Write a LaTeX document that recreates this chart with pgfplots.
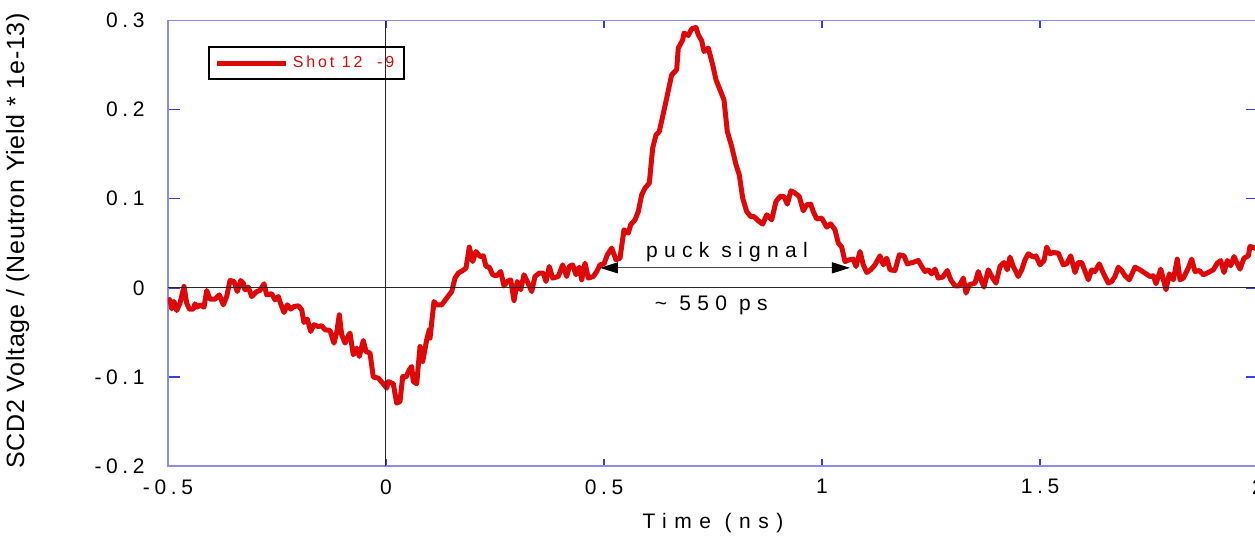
\documentclass[border=0pt]{standalone}
\usepackage{pgfplots}
\pgfplotsset{compat=1.18}
\usepackage{fontspec}
\setmainfont{Liberation Sans}
\newfontfamily\lsfont[LetterSpace=22]{Liberation Sans}
\newfontfamily\xlfont[LetterSpace=36]{Liberation Sans}
\newfontfamily\annfont[LetterSpace=30]{Liberation Sans}
\newfontfamily\legfont[LetterSpace=18]{Liberation Sans}
\newfontfamily\ylfont[LetterSpace=3]{Liberation Sans}
\usetikzlibrary{arrows.meta}
\definecolor{axisblue}{RGB}{140,140,240}
\definecolor{tickblue}{RGB}{60,60,230}
\definecolor{curvered}{RGB}{222,8,8}
\definecolor{zeroline}{RGB}{40,40,40}
\begin{document}
\begin{tikzpicture}
\begin{axis}[
  scale only axis,
  width=545pt, height=222.75pt,
  xmin=-0.5, xmax=2, ymin=-0.2, ymax=0.3,
  xtick={-0.5,0,0.5,1,1.5,2},
  xticklabels={-0.5,0,0.5,1,1.5,2},
  ytick={-0.2,-0.1,0,0.1,0.2,0.3},
  yticklabels={-0.2,-0.1,0,0.1,0.2,0.3},
  tick align=inside,
  axis line style={color=axisblue, line width=0.75pt},
  major tick style={color=tickblue, line width=0.75pt},
  xtick style={/pgfplots/major tick length=3.5pt},
  ytick style={/pgfplots/major tick length=6pt},
  xticklabel style={font=\fontsize{10.5}{12}\lsfont, anchor=north, inner sep=0pt, yshift=-6.5pt},
  yticklabel style={font=\fontsize{10.5}{12}\lsfont, anchor=east, inner sep=0pt, xshift=-11.5pt},
  xlabel={Time (ns)},
  xlabel style={font=\fontsize{10.5}{12}\xlfont, at={(axis description cs:0.5,-0.128)}, anchor=center},
  ylabel={SCD2 Voltage / (Neutron Yield * 1e-13)},
  ylabel style={font=\fontsize{12.5}{14}\ylfont, at={(axis description cs:-0.138,0.505)}, anchor=center},
  legend style={at={(rel axis cs:0.0367,0.943)}, anchor=north west, draw=black, line width=0.9pt, fill=none,
    font=\fontsize{8}{9}\legfont, text=curvered, inner xsep=3pt, inner ysep=2.5pt},
  legend image code/.code={\draw[#1] (0pt,0pt) -- (34.5pt,0pt);},
  clip=true,
]
\addplot[color=curvered, line width=2.5pt, line join=round, no marks] coordinates {
(-0.5000,-0.0127) (-0.4954,-0.0135) (-0.4915,-0.0236) (-0.4862,-0.0154) (-0.4800,-0.0255)
(-0.4725,-0.0172) (-0.4633,0.0015) (-0.4571,-0.0172) (-0.4511,-0.0239) (-0.4420,-0.0239)
(-0.4381,-0.0180) (-0.4328,-0.0217) (-0.4266,-0.0191) (-0.4174,-0.0217) (-0.4112,-0.0030)
(-0.4037,-0.0127) (-0.3922,-0.0127) (-0.3823,-0.0079) (-0.3732,-0.0191) (-0.3654,-0.0098)
(-0.3578,0.0082) (-0.3486,0.0071) (-0.3411,-0.0042) (-0.3333,0.0082) (-0.3273,0.0053)
(-0.3234,-0.0022) (-0.3158,0.0008) (-0.3080,-0.0098) (-0.2966,-0.0042) (-0.2890,-0.0030)
(-0.2798,0.0045) (-0.2736,-0.0079) (-0.2622,-0.0067) (-0.2546,-0.0135) (-0.2470,-0.0098)
(-0.2415,-0.0180) (-0.2339,-0.0277) (-0.2264,-0.0191) (-0.2186,-0.0239) (-0.2110,-0.0210)
(-0.2011,-0.0202) (-0.1933,-0.0247) (-0.1881,-0.0389) (-0.1805,-0.0351) (-0.1727,-0.0490)
(-0.1651,-0.0415) (-0.1553,-0.0434) (-0.1475,-0.0426) (-0.1399,-0.0471) (-0.1284,-0.0479)
(-0.1193,-0.0621) (-0.1131,-0.0502) (-0.1071,-0.0303) (-0.1016,-0.0527) (-0.0940,-0.0621)
(-0.0865,-0.0539) (-0.0826,-0.0508) (-0.0750,-0.0752) (-0.0672,-0.0677) (-0.0612,-0.0771)
(-0.0521,-0.0591) (-0.0459,-0.0715) (-0.0367,-0.0733) (-0.0291,-0.1002) (-0.0177,-0.1013)
(-0.0076,-0.1070) (0.0016,-0.1126) (0.0053,-0.1052) (0.0167,-0.1077) (0.0245,-0.1294)
(0.0321,-0.1276) (0.0383,-0.0996) (0.0459,-0.1002) (0.0534,-0.0920) (0.0589,-0.0883)
(0.0626,-0.1052) (0.0704,-0.1077) (0.0780,-0.0659) (0.0842,-0.0827) (0.0933,-0.0584)
(0.0993,-0.0471) (0.1009,-0.0565) (0.1101,-0.0154) (0.1163,-0.0191) (0.1278,-0.0191)
(0.1392,-0.0116) (0.1507,-0.0042) (0.1583,0.0109) (0.1658,0.0165) (0.1759,0.0194)
(0.1835,0.0221) (0.1911,0.0457) (0.1989,0.0295) (0.2064,0.0407) (0.2156,0.0351)
(0.2232,0.0359) (0.2294,0.0239) (0.2369,0.0232) (0.2447,0.0146) (0.2539,0.0135)
(0.2631,0.0183) (0.2706,0.0022) (0.2782,0.0071) (0.2860,0.0090) (0.2936,-0.0143)
(0.3011,0.0071) (0.3089,-0.0022) (0.3165,0.0146) (0.3241,0.0071) (0.3342,-0.0042)
(0.3417,0.0127) (0.3516,0.0165) (0.3608,0.0165) (0.3670,0.0071) (0.3745,0.0239)
(0.3823,0.0109) (0.3952,0.0127) (0.4053,0.0258) (0.4144,0.0127) (0.4204,0.0239)
(0.4282,0.0258) (0.4358,0.0146) (0.4433,0.0232) (0.4489,0.0090) (0.4564,0.0277)
(0.4640,0.0109) (0.4755,0.0127) (0.4833,0.0183) (0.4908,0.0258) (0.5000,0.0269)
(0.5076,0.0370) (0.5177,0.0446) (0.5275,0.0314) (0.5367,0.0333) (0.5459,0.0651)
(0.5558,0.0614) (0.5612,0.0707) (0.5711,0.0763) (0.5787,0.0856) (0.5865,0.1044)
(0.5940,0.1119) (0.6039,0.1175) (0.6117,0.1568) (0.6193,0.1717) (0.6268,0.1754)
(0.6346,0.1923) (0.6438,0.2129) (0.6553,0.2391) (0.6667,0.2447) (0.6704,0.2690)
(0.6805,0.2783) (0.6835,0.2859) (0.6934,0.2832) (0.7011,0.2907) (0.7110,0.2921)
(0.7163,0.2840) (0.7241,0.2772) (0.7294,0.2652) (0.7392,0.2690) (0.7493,0.2503)
(0.7569,0.2334) (0.7661,0.2222) (0.7752,0.2110) (0.7828,0.1754) (0.7929,0.1586)
(0.8028,0.1380) (0.8103,0.1268) (0.8181,0.1007) (0.8273,0.0856) (0.8365,0.0800)
(0.8440,0.0800) (0.8539,0.0752) (0.8640,0.0715) (0.8732,0.0819) (0.8846,0.0763)
(0.8945,0.0969) (0.9037,0.1025) (0.9128,0.1025) (0.9204,0.0939) (0.9289,0.1089)
(0.9381,0.1063) (0.9479,0.1025) (0.9571,0.0864) (0.9649,0.0932) (0.9741,0.0939)
(0.9800,0.0856) (0.9878,0.0774) (0.9993,0.0782) (1.0108,0.0681) (1.0199,0.0718)
(1.0298,0.0651) (1.0374,0.0502) (1.0452,0.0457) (1.0528,0.0295) (1.0626,0.0314)
(1.0718,0.0322) (1.0780,0.0239) (1.0872,0.0407) (1.0947,0.0258) (1.1025,0.0172)
(1.1117,0.0202) (1.1216,0.0258) (1.1330,0.0359) (1.1406,0.0258) (1.1484,0.0333)
(1.1560,0.0202) (1.1674,0.0194) (1.1773,0.0370) (1.1881,0.0359) (1.1956,0.0269)
(1.2080,0.0284) (1.2209,0.0306) (1.2287,0.0239) (1.2362,0.0183) (1.2438,0.0202)
(1.2516,0.0157) (1.2592,0.0210) (1.2667,0.0109) (1.2768,0.0120) (1.2874,0.0194)
(1.2952,0.0090) (1.3050,0.0022) (1.3149,0.0022) (1.3241,0.0109) (1.3303,-0.0059)
(1.3378,0.0034) (1.3509,0.0053) (1.3585,0.0183) (1.3663,0.0071) (1.3716,0.0008)
(1.3814,0.0202) (1.3915,0.0109) (1.3991,0.0053) (1.4083,0.0239) (1.4174,0.0284)
(1.4250,0.0202) (1.4312,0.0345) (1.4388,0.0239) (1.4502,0.0127) (1.4580,0.0202)
(1.4656,0.0314) (1.4732,0.0382) (1.4846,0.0345) (1.4908,0.0359) (1.5000,0.0258)
(1.5092,0.0306) (1.5154,0.0457) (1.5229,0.0382) (1.5305,0.0396) (1.5420,0.0389)
(1.5534,0.0258) (1.5612,0.0269) (1.5704,0.0359) (1.5803,0.0172) (1.5878,0.0284)
(1.5956,0.0284) (1.6108,0.0090) (1.6186,0.0202) (1.6261,0.0183) (1.6360,0.0269)
(1.6452,0.0165) (1.6567,0.0053) (1.6644,0.0071) (1.6720,0.0127) (1.6796,0.0232)
(1.6874,0.0194) (1.6950,0.0135) (1.7048,0.0090) (1.7179,0.0232) (1.7294,0.0202)
(1.7408,0.0165) (1.7523,0.0127) (1.7599,0.0135) (1.7661,0.0045) (1.7769,0.0210)
(1.7890,-0.0022) (1.7966,0.0157) (1.8058,0.0090) (1.8149,0.0322) (1.8211,0.0090)
(1.8287,0.0109) (1.8401,0.0221) (1.8479,0.0322) (1.8555,0.0183) (1.8654,0.0194)
(1.8745,0.0146) (1.8860,0.0172) (1.8975,0.0202) (1.9067,0.0277) (1.9144,0.0306)
(1.9220,0.0172) (1.9296,0.0306) (1.9374,0.0247) (1.9450,0.0351) (1.9511,0.0284)
(1.9587,0.0210) (1.9679,0.0333) (1.9778,0.0359) (1.9817,0.0464) (1.9931,0.0446)
(2.0000,0.0430)
};
\addlegendentry{Shot 12 \ -9}
\draw[color=zeroline, line width=0.5pt] (axis cs:0,-0.2) -- (axis cs:0,0.3);
\draw[color=zeroline, line width=0.5pt] (axis cs:-0.5,0) -- (axis cs:2,0);
\draw[color=black!70, line width=0.5pt, {Triangle[length=9pt,width=5.5pt,color=black]}-{Triangle[length=9pt,width=5.5pt,color=black]}] (axis cs:0.4908,0.0224) -- (axis cs:1.0642,0.0224);
\node[font=\fontsize{10.5}{12}\annfont, anchor=center] at (axis cs:0.782,0.0404) {puck signal};
\node[font=\fontsize{10.5}{12}\annfont, anchor=center] at (axis cs:0.746,-0.0195) {\~{}\ 550 ps};
\end{axis}
\pgfresetboundingbox
\path[use as bounding box] (-84pt,-36pt) rectangle (543.5pt,233pt);
\end{tikzpicture}
\end{document}
